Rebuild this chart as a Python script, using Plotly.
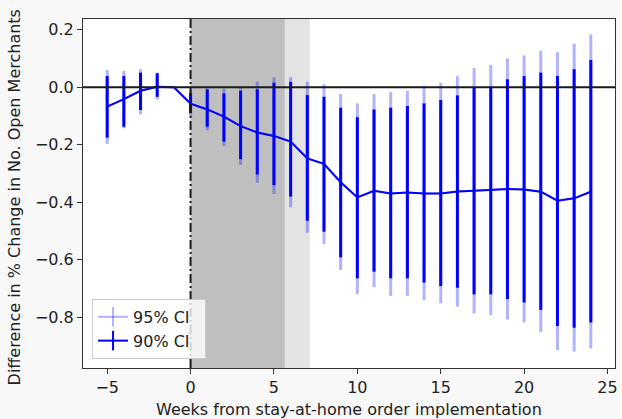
import plotly.graph_objects as go

# ---- data ----
weeks = [-5, -4, -3, -2, -1, 0, 1, 2, 3, 4, 5, 6, 7, 8, 9, 10, 11, 12, 13, 14,
         15, 16, 17, 18, 19, 20, 21, 22, 23, 24]
coef = [-0.067, -0.041, -0.012, 0.002, 0.0, -0.057, -0.077, -0.102, -0.135, -0.157,
        -0.169, -0.189, -0.247, -0.266, -0.330, -0.383, -0.360, -0.369, -0.366, -0.369,
        -0.369, -0.362, -0.360, -0.357, -0.354, -0.355, -0.363, -0.394, -0.386, -0.363]
ci90_high = [0.039, 0.039, 0.051, 0.049, 0.0, -0.021, -0.007, -0.021, -0.012, -0.007,
             0.016, 0.019, -0.027, -0.033, -0.071, -0.104, -0.077, -0.071, -0.065, -0.056,
             -0.044, -0.028, 0.000, 0.002, 0.028, 0.039, 0.051, 0.039, 0.063, 0.095]
ci90_low = [-0.175, -0.137, -0.079, -0.033, 0.0, -0.090, -0.137, -0.189, -0.250, -0.303,
            -0.340, -0.380, -0.464, -0.502, -0.591, -0.664, -0.641, -0.664, -0.664, -0.679,
            -0.691, -0.697, -0.720, -0.720, -0.736, -0.748, -0.774, -0.830, -0.836, -0.818]
ci95_high = [0.060, 0.057, 0.063, 0.051, 0.0, -0.010, -0.004, -0.004, 0.000, 0.020,
             0.035, 0.035, 0.019, 0.011, -0.023, -0.056, -0.023, -0.016, -0.012, 0.005,
             0.016, 0.039, 0.067, 0.078, 0.100, 0.111, 0.127, 0.122, 0.152, 0.184]
ci95_low = [-0.197, -0.142, -0.094, -0.042, 0.0, -0.102, -0.149, -0.204, -0.270, -0.332,
            -0.371, -0.417, -0.506, -0.545, -0.635, -0.719, -0.695, -0.725, -0.725, -0.740,
            -0.751, -0.763, -0.786, -0.792, -0.807, -0.818, -0.852, -0.913, -0.919, -0.908]

dark_period = [0, 5.65]
light_period = [5.65, 7.15]

x_ticks = [-5, 0, 5, 10, 15, 20, 25]
y_ticks = [-0.8, -0.6, -0.4, -0.2, 0.0, 0.2]

series_labels = ["95% CI", "90% CI"]
x_title = "Weeks from stay-at-home order implementation"
y_title = "Difference in % Change in No. Open Merchants"

# ---- figure ----
BLUE = "#0000ff"
LIGHT = "rgba(0,0,255,0.3)"
FONT = "DejaVu Sans"
FS = 16

def up(hi):
    return [h - c for h, c in zip(hi, coef)]

def dn(lo):
    return [c - l for c, l in zip(coef, lo)]

fig = go.Figure()
fig.add_trace(go.Scatter(
    x=weeks, y=coef, mode="lines", line=dict(color=LIGHT, width=2), showlegend=False,
    error_y=dict(type="data", symmetric=False, array=up(ci95_high), arrayminus=dn(ci95_low),
                 color=LIGHT, thickness=3, width=0)))
fig.add_trace(go.Scatter(
    x=weeks, y=coef, mode="lines", line=dict(color=BLUE, width=2), showlegend=False,
    error_y=dict(type="data", symmetric=False, array=up(ci90_high), arrayminus=dn(ci90_low),
                 color=BLUE, thickness=3, width=0)))

# legend entries (line with a vertical error tick)
for lab, col in zip(series_labels, [LIGHT, BLUE]):
    fig.add_trace(go.Scatter(
        x=[None], y=[None], mode="lines+markers", name=lab + "\u00a0\u00a0",
        line=dict(color=col, width=2),
        marker=dict(symbol="line-ns", size=14, color=col, line=dict(color=col, width=2))))

fig.add_vrect(x0=light_period[0], x1=light_period[1], fillcolor="#e3e3e3", line_width=0, layer="below")
fig.add_vrect(x0=dark_period[0], x1=dark_period[1], fillcolor="#bfbfbf", line_width=0, layer="below")
fig.add_hline(y=0, line=dict(color="#1a1a1a", width=2), layer="above")
fig.add_vline(x=0, line=dict(color="#1a1a1a", width=2, dash="9px,3px,2px,3px"), layer="above")

def fmt(v):
    s = f"{abs(v):.1f}" if isinstance(v, float) else f"{abs(v)}"
    return ("\u2212" + s) if v < 0 else s

axis_common = dict(showline=True, linecolor="#333", linewidth=1, mirror=True,
                   ticks="outside", ticklen=5, tickcolor="#333", tickwidth=1,
                   showgrid=False, zeroline=False,
                   tickfont=dict(family=FONT, size=FS, color="#222"))

fig.update_xaxes(range=[-6.45, 25.45], tickvals=x_ticks,
                 ticktext=[fmt(v) for v in x_ticks], **axis_common)
fig.update_yaxes(range=[-0.976, 0.2375], tickvals=y_ticks,
                 ticktext=[fmt(v) for v in y_ticks], **axis_common)

fig.add_annotation(text=x_title, xref="paper", yref="paper", x=0.5, y=-0.1175,
                   xanchor="center", yanchor="middle", showarrow=False,
                   font=dict(family=FONT, size=FS, color="#222"))
fig.add_annotation(text=y_title, xref="paper", yref="paper", x=-0.127, y=0.49,
                   xanchor="center", yanchor="middle", showarrow=False, textangle=-90,
                   font=dict(family=FONT, size=FS, color="#222"))

fig.update_layout(
    width=622, height=419,
    margin=dict(l=83, r=4, t=19, b=51),
    paper_bgcolor="#f8f8f8", plot_bgcolor="white",
    font=dict(family=FONT, size=FS, color="#222"),
    legend=dict(x=0.017, y=0.026, xanchor="left", yanchor="bottom",
                bgcolor="rgba(255,255,255,0.8)", bordercolor="#cccccc", borderwidth=1,
                font=dict(family=FONT, size=FS, color="#222"), tracegroupgap=0,
                itemwidth=30),
)

fig.write_html("out.html")
